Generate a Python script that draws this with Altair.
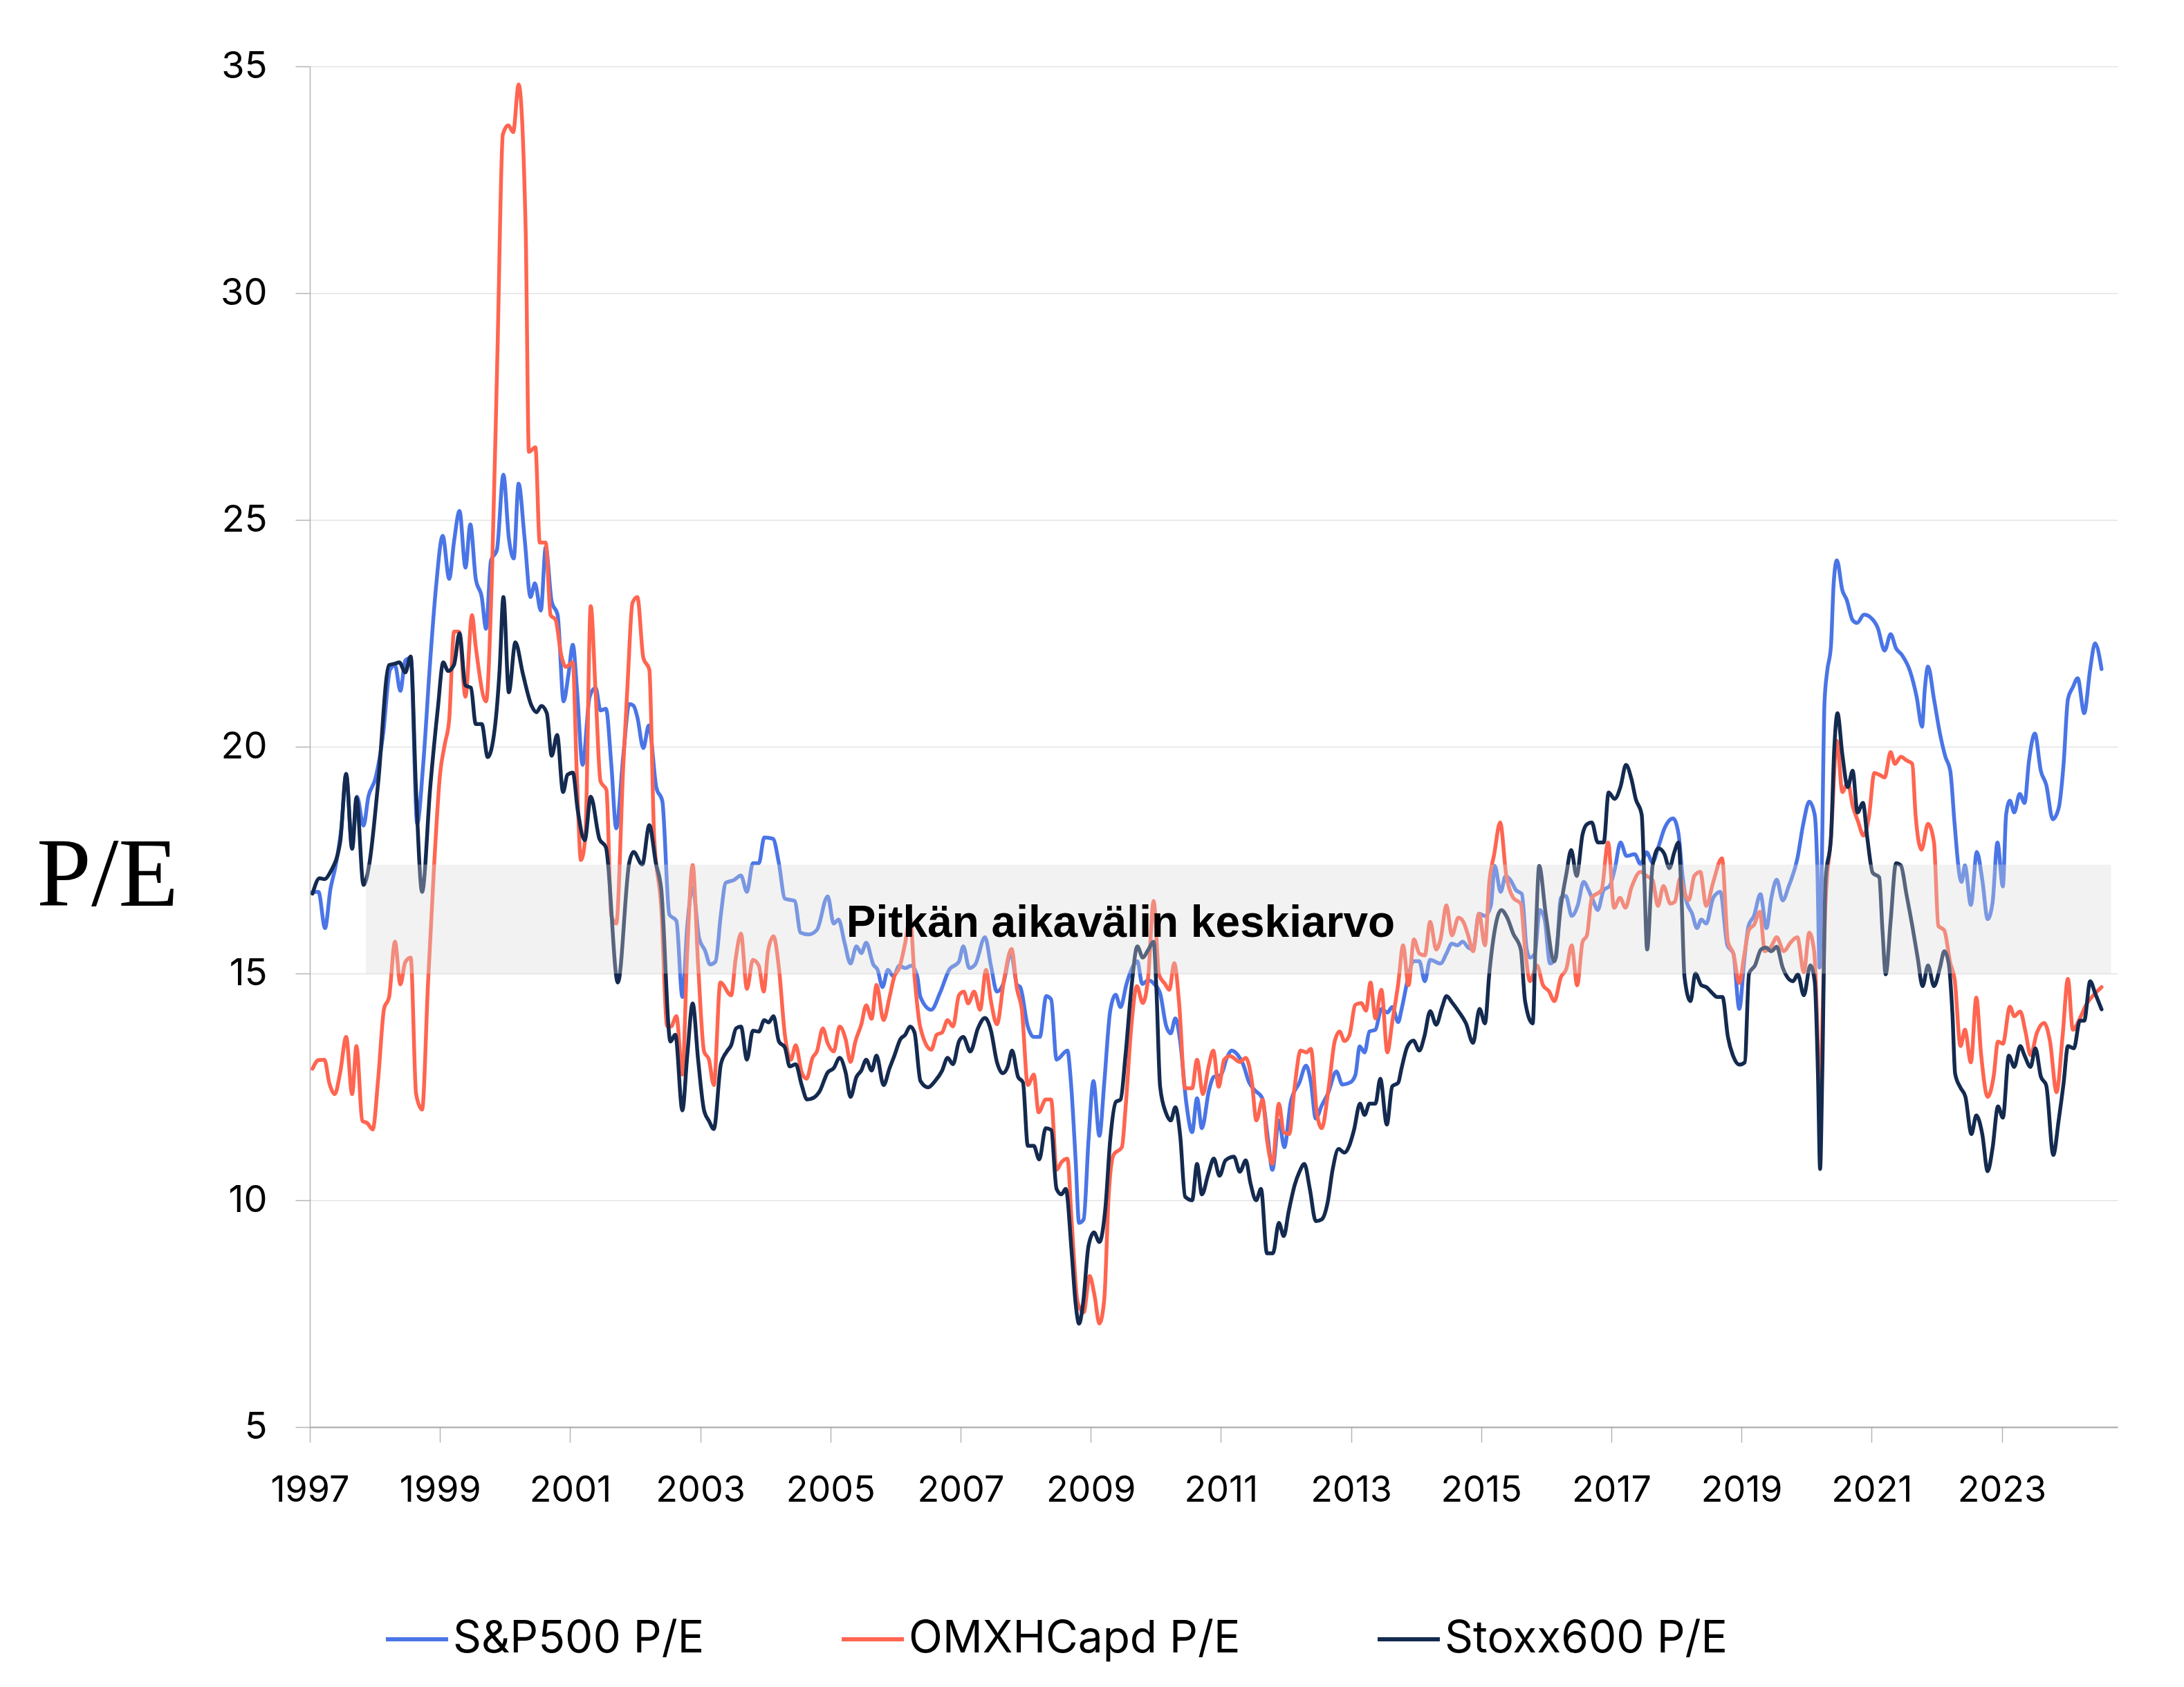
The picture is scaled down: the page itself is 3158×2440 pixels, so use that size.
import altair as alt
import pandas as pd

# ---- data: (months since Jan 1997, P/E) ----
sp500 = [(0.5,16.8),(1.6,16.8),(2.8,16.0),(3.8,16.86),(4.7,17.34),(5.8,18.2),(6.7,19.4),(7.8,17.75),(8.7,18.9),(9.9,18.26),(10.8,18.9),(12.1,19.3),(13.5,20.26),(14.8,21.7),(15.7,21.8),(16.7,21.23),(17.6,21.9),(18.6,21.96),(19.8,18.3),(20.9,19.6),(22.2,21.9),(23.3,23.56),(24.5,24.65),(25.7,23.7),(26.6,24.53),(27.6,25.2),(28.7,23.95),(29.6,24.9),(30.6,23.7),(31.7,23.3),(32.5,22.6),(33.4,24.1),(34.5,24.34),(35.7,26.0),(36.7,24.6),(37.6,24.15),(38.5,25.8),(39.6,24.6),(40.7,23.3),(41.5,23.6),(42.6,23.0),(43.5,24.4),(44.6,23.2),(45.7,22.9),(46.8,21.0),(47.7,21.6),(48.5,22.25),(49.3,21.2),(50.3,19.6),(51.6,21.1),(52.7,21.3),(53.6,20.8),(54.6,20.84),(55.6,19.6),(56.5,18.2),(57.8,19.8),(58.9,20.94),(59.7,20.9),(60.4,20.65),(61.5,19.97),(62.5,20.47),(63.9,19.1),(65.0,18.8),(66.3,16.3),(67.6,16.16),(68.7,14.48),(69.6,16.05),(70.6,16.9),(71.8,15.77),(72.9,15.5),(73.8,15.2),(74.8,15.26),(75.8,16.3),(76.7,17.0),(78.2,17.06),(79.5,17.16),(80.6,16.8),(81.7,17.43),(82.8,17.43),(83.8,18.0),(85.4,17.97),(86.5,17.43),(87.6,16.65),(89.4,16.6),(90.5,15.9),(92.0,15.86),(93.5,15.96),(95.5,16.7),(96.6,16.1),(97.5,16.19),(98.6,15.68),(99.7,15.22),(100.8,15.6),(101.7,15.45),(102.6,15.68),(103.9,15.2),(104.7,15.08),(105.6,14.7),(106.6,15.08),(107.6,14.94),(108.7,15.17),(109.8,15.12),(110.9,15.17),(112.0,14.94),(112.6,14.48),(114.6,14.2),(116.2,14.57),(117.9,15.08),(119.7,15.26),(120.5,15.6),(121.6,15.12),(122.7,15.2),(124.5,15.8),(125.6,15.17),(126.7,14.6),(127.8,14.75),(129.3,15.45),(130.4,14.75),(131.0,14.7),(132.4,13.83),(133.5,13.6),(134.6,13.6),(135.8,14.5),(136.7,14.43),(137.7,13.1),(139.7,13.3),(140.3,12.68),(141.2,10.92),(141.85,9.5),(142.7,9.58),(143.6,11.34),(144.5,12.63),(145.6,11.42),(146.5,12.6),(147.6,14.18),(148.6,14.53),(149.5,14.26),(150.6,14.77),(151.7,15.14),(152.6,15.27),(153.5,14.77),(154.6,14.85),(155.7,14.77),(156.8,14.56),(157.9,13.85),(158.75,13.68),(159.6,14.01),(160.5,13.5),(161.6,12.17),(162.7,11.5),(163.6,12.25),(164.5,11.59),(165.8,12.42),(166.7,12.72),(168.0,12.76),(169.1,13.14),(170.0,13.3),(171.0,13.22),(172.1,13.0),(173.2,12.6),(174.3,12.42),(175.6,12.26),(176.7,11.34),(177.5,10.67),(178.7,11.76),(179.7,11.17),(180.9,12.17),(182.5,12.6),(183.7,12.97),(184.6,12.6),(185.5,11.8),(186.6,12.09),(187.7,12.34),(189.3,12.84),(190.4,12.55),(191.9,12.6),(192.8,12.76),(193.6,13.39),(194.5,13.26),(195.4,13.72),(196.5,13.76),(197.6,14.22),(198.7,14.14),(199.6,14.26),(200.7,13.93),(201.3,14.2),(202.4,14.83),(203.5,15.27),(204.6,15.27),(205.6,14.83),(206.6,15.3),(208.5,15.22),(209.6,15.44),(210.6,15.66),(211.6,15.62),(212.6,15.7),(213.6,15.57),(214.5,15.53),(215.6,16.32),(216.7,16.27),(217.8,16.5),(218.5,17.37),(219.6,16.8),(220.5,17.15),(221.4,17.06),(222.4,16.84),(223.5,16.75),(224.4,15.53),(225.0,15.35),(225.9,15.44),(226.8,16.4),(227.7,16.19),(228.7,15.22),(229.8,15.35),(230.7,16.67),(231.6,16.71),(232.7,16.27),(233.8,16.5),(234.9,17.02),(235.8,16.84),(236.6,16.62),(237.5,16.4),(238.6,16.84),(239.7,16.93),(240.6,17.28),(241.7,17.89),(242.8,17.59),(244.3,17.63),(245.4,17.41),(246.5,17.67),(247.6,17.45),(248.7,17.8),(249.8,18.2),(251.4,18.42),(252.4,18.07),(253.1,17.19),(253.8,16.62),(254.9,16.32),(255.8,16.0),(256.6,16.19),(257.5,16.1),(258.8,16.67),(260.1,16.8),(261.4,15.62),(262.5,15.44),(263.6,14.22),(264.5,15.27),(265.3,16.05),(266.3,16.27),(267.5,16.75),(268.6,16.0),(269.5,16.66),(270.5,17.07),(271.6,16.61),(272.7,16.92),(274.3,17.53),(275.4,18.3),(276.5,18.79),(277.5,18.5),(278.0,17.28),(278.4,15.13),(278.8,17.28),(279.3,20.95),(279.8,21.66),(280.5,22.22),(281.0,23.6),(281.6,24.11),(282.6,23.45),(283.4,23.24),(284.5,22.79),(285.3,22.73),(286.6,22.91),(287.9,22.84),(289.1,22.63),(290.4,22.12),(291.5,22.48),(292.5,22.17),(293.6,22.02),(295.1,21.66),(296.3,21.1),(297.3,20.44),(297.8,21.26),(298.4,21.77),(299.5,21.05),(300.6,20.29),(301.6,19.78),(302.5,19.47),(303.3,18.3),(304.2,17.17),(304.6,17.02),(305.2,17.38),(306.3,16.51),(307.4,17.68),(308.4,17.07),(309.4,16.2),(310.3,16.56),(311.2,17.89),(312.2,16.92),(312.8,18.5),(313.5,18.81),(314.3,18.55),(315.3,18.96),(316.2,18.76),(317.0,19.67),(318.1,20.29),(319.2,19.47),(320.2,19.16),(321.4,18.4),(322.5,18.65),(323.4,19.62),(324.2,21.05),(325.1,21.31),(326.0,21.51),(327.2,20.74),(328.3,21.71),(329.2,22.28),(330.4,21.71)]

omxh = [(0.5,12.9),(1.6,13.09),(2.7,13.1),(3.6,12.58),(4.6,12.34),(5.6,12.82),(6.7,13.6),(7.8,12.34),(8.6,13.4),(9.7,11.75),(10.6,11.7),(11.6,11.56),(12.6,12.67),(13.7,14.23),(14.6,14.47),(15.7,15.7),(16.7,14.76),(17.6,15.25),(18.6,15.35),(19.6,12.34),(20.7,12.0),(21.8,14.8),(22.9,17.34),(24.0,19.38),(24.9,20.06),(25.7,20.6),(26.6,22.54),(27.5,22.54),(28.7,21.1),(29.9,22.9),(30.6,22.2),(32.5,21.0),(33.6,23.85),(34.6,28.7),(35.6,33.5),(36.6,33.7),(37.5,33.55),(38.5,34.6),(39.8,31.4),(40.4,26.5),(41.6,26.6),(42.4,24.5),(43.5,24.5),(44.4,22.9),(45.3,22.8),(46.4,22.0),(47.2,21.76),(48.5,21.86),(49.2,19.5),(50.0,17.5),(50.8,18.0),(51.8,23.1),(52.7,21.2),(53.6,19.24),(54.7,19.04),(55.6,16.27),(56.5,16.1),(57.8,19.58),(58.6,21.4),(59.5,23.17),(60.4,23.3),(61.5,21.96),(62.6,21.7),(63.5,18.0),(64.8,16.47),(65.9,13.84),(66.6,13.83),(67.6,14.06),(68.7,12.77),(69.6,15.5),(70.6,17.39),(71.6,15.2),(72.7,13.28),(73.6,13.1),(74.5,12.54),(75.7,14.8),(77.7,14.52),(78.5,15.3),(79.5,15.88),(80.6,14.66),(81.7,15.3),(82.8,15.17),(83.7,14.6),(84.5,15.5),(85.5,15.82),(86.5,15.12),(87.6,13.65),(88.7,13.1),(89.6,13.42),(90.7,12.82),(91.6,12.68),(92.7,13.14),(93.5,13.28),(94.6,13.79),(95.5,13.46),(96.6,13.28),(97.7,13.83),(98.8,13.55),(99.7,13.05),(100.6,13.5),(101.7,13.88),(102.6,14.3),(103.6,14.0),(104.5,14.75),(105.8,13.97),(106.9,14.48),(107.8,14.94),(108.7,15.12),(109.8,15.68),(110.7,16.23),(111.5,14.94),(112.6,13.8),(114.6,13.32),(115.6,13.65),(116.6,13.7),(117.6,13.97),(118.6,13.83),(119.7,14.52),(120.6,14.6),(121.4,14.34),(122.5,14.6),(123.6,14.2),(124.7,15.08),(125.6,14.39),(126.7,13.88),(128.0,14.85),(129.4,15.54),(130.4,14.66),(131.3,14.2),(132.4,12.54),(133.5,12.77),(134.4,11.94),(135.7,12.22),(136.7,12.22),(137.7,10.67),(138.6,10.84),(139.7,10.92),(140.5,9.5),(141.6,7.74),(142.7,7.53),(143.8,8.33),(144.7,7.9),(145.6,7.28),(146.5,7.82),(147.3,10.08),(148.2,11.0),(149.75,11.17),(150.4,12.0),(151.5,13.85),(152.5,14.72),(153.6,14.35),(154.6,14.93),(155.6,16.6),(156.6,14.97),(157.7,14.77),(158.5,14.64),(159.4,15.23),(160.3,14.35),(161.4,12.47),(162.7,12.47),(163.6,13.1),(164.7,12.34),(165.7,12.93),(166.6,13.3),(167.6,12.5),(168.6,13.1),(169.7,13.18),(171.5,13.05),(172.6,13.14),(173.7,12.63),(174.55,11.76),(175.7,12.22),(176.5,11.34),(177.5,10.8),(178.7,12.13),(179.6,11.5),(180.6,11.46),(181.6,12.5),(182.7,13.3),(183.8,13.26),(184.6,13.34),(185.7,11.92),(186.6,11.59),(187.9,12.5),(189.0,13.51),(189.9,13.72),(190.8,13.51),(191.7,13.64),(192.8,14.31),(193.9,14.35),(194.75,14.18),(195.6,14.8),(196.5,14.01),(197.6,14.64),(198.7,13.26),(199.6,13.93),(200.7,14.77),(201.6,15.62),(202.6,14.74),(203.6,15.75),(204.6,15.44),(205.6,15.4),(206.6,16.14),(207.7,15.53),(208.5,15.75),(209.6,16.5),(210.6,15.84),(211.8,16.23),(212.7,16.14),(213.6,15.84),(214.5,15.49),(215.6,16.32),(216.7,15.62),(217.5,17.02),(218.4,17.63),(219.5,18.33),(220.6,17.19),(221.9,16.67),(223.3,16.54),(224.1,15.53),(225.0,14.83),(226.3,15.18),(227.4,14.74),(228.5,14.61),(229.5,14.39),(230.7,14.92),(231.7,15.1),(232.7,15.62),(233.7,14.74),(234.7,15.7),(235.5,15.84),(236.4,16.67),(238.2,16.84),(239.4,17.89),(240.5,16.45),(241.6,16.67),(242.6,16.45),(243.7,16.89),(245.4,17.24),(246.5,17.15),(247.6,17.06),(248.6,16.49),(249.6,16.93),(250.9,16.54),(251.7,16.58),(252.7,17.1),(253.6,16.75),(254.3,16.62),(255.3,17.15),(256.4,17.24),(257.5,16.49),(258.8,17.02),(260.4,17.54),(261.5,15.7),(262.5,15.44),(263.6,14.79),(264.5,15.4),(265.4,15.97),(266.3,16.07),(267.4,16.36),(268.3,15.49),(269.5,15.6),(270.5,15.8),(271.8,15.49),(273.1,15.69),(274.3,15.8),(275.5,15.03),(276.5,15.9),(277.4,15.49),(278.0,13.8),(278.5,11.76),(278.9,13.8),(279.5,16.56),(280.5,17.99),(281.6,20.13),(282.6,19.0),(283.6,19.21),(284.5,18.7),(285.5,18.35),(286.5,18.04),(287.5,18.45),(288.5,19.42),(289.6,19.37),(290.4,19.32),(291.5,19.88),(292.3,19.62),(293.4,19.78),(294.4,19.7),(295.5,19.62),(296.1,18.5),(297.2,17.73),(298.4,18.3),(299.5,17.89),(300.3,16.05),(301.4,15.95),(302.5,15.23),(303.3,14.88),(304.4,13.4),(305.2,13.76),(306.3,13.04),(307.3,14.47),(308.2,13.2),(309.4,12.28),(310.5,12.73),(311.3,13.5),(312.2,13.45),(313.5,14.27),(314.3,14.06),(315.4,14.16),(316.4,13.7),(317.3,13.2),(318.5,13.7),(319.8,13.91),(320.9,13.5),(322.1,12.38),(323.2,13.6),(324.2,14.88),(325.1,13.76),(326.4,14.01),(327.6,14.32),(328.9,14.52),(330.4,14.7)]

stoxx = [(0.5,16.76),(1.8,17.1),(2.7,17.08),(3.8,17.24),(5.6,17.9),(6.7,19.4),(7.8,17.75),(8.6,18.88),(9.9,16.95),(11.0,17.44),(12.6,19.2),(14.6,21.8),(15.7,21.83),(16.5,21.86),(17.6,21.64),(18.6,21.99),(19.6,19.0),(20.7,16.8),(22.2,19.1),(23.6,20.84),(24.6,21.86),(25.5,21.67),(26.6,21.81),(27.6,22.5),(28.7,21.35),(29.7,21.3),(30.6,20.5),(31.7,20.5),(32.8,19.77),(34.1,20.4),(35.0,21.7),(35.7,23.3),(36.7,21.2),(37.9,22.3),(39.3,21.6),(40.9,20.9),(41.8,20.76),(42.7,20.9),(43.7,20.74),(44.6,19.8),(45.6,20.26),(46.7,19.0),(47.5,19.38),(48.5,19.43),(49.4,18.6),(50.7,17.94),(51.8,18.9),(53.4,17.97),(54.6,17.78),(56.8,14.8),(58.9,17.44),(59.7,17.68),(61.3,17.4),(62.6,18.27),(63.8,17.44),(64.8,16.86),(66.5,13.5),(67.4,13.65),(68.7,11.98),(69.6,13.19),(70.6,14.34),(71.6,13.1),(72.7,11.98),(73.6,11.75),(74.5,11.57),(75.8,13.0),(76.9,13.28),(77.7,13.42),(78.6,13.79),(79.5,13.83),(80.6,13.1),(81.7,13.74),(82.8,13.72),(83.8,13.97),(84.6,13.92),(85.5,14.06),(86.5,13.5),(87.6,13.37),(88.5,12.95),(89.6,13.0),(90.7,12.54),(91.7,12.22),(92.9,12.26),(94.0,12.4),(95.5,12.82),(96.6,12.91),(97.7,13.14),(98.8,12.82),(99.7,12.28),(100.8,12.72),(101.7,12.86),(102.6,13.1),(103.6,12.86),(104.5,13.19),(105.8,12.54),(106.9,12.91),(107.8,13.19),(108.9,13.55),(109.8,13.65),(110.7,13.83),(111.5,13.7),(112.6,12.63),(114.0,12.49),(115.3,12.63),(116.6,12.86),(117.6,13.14),(118.6,13.0),(119.7,13.5),(120.5,13.6),(121.8,13.28),(123.2,13.79),(124.5,14.02),(125.6,13.74),(126.7,13.05),(127.8,12.8),(128.7,12.95),(129.5,13.3),(130.6,12.72),(131.5,12.6),(132.4,11.2),(133.5,11.2),(134.5,10.9),(135.7,11.59),(136.7,11.55),(137.7,10.25),(138.6,10.13),(139.4,10.25),(140.5,8.83),(141.2,7.74),(141.85,7.28),(142.6,7.74),(143.6,9.0),(144.6,9.29),(145.6,9.08),(146.7,9.83),(147.6,11.34),(148.65,12.17),(149.5,12.22),(150.4,13.18),(151.5,14.68),(152.6,15.6),(153.6,15.35),(154.6,15.52),(155.6,15.7),(156.1,14.68),(156.8,12.5),(157.9,11.92),(158.75,11.76),(159.6,12.05),(160.5,11.42),(161.4,10.08),(162.7,10.0),(163.6,10.8),(164.5,10.13),(165.7,10.59),(166.7,10.92),(167.75,10.54),(168.85,10.88),(170.4,10.96),(171.5,10.63),(172.6,10.88),(173.45,10.38),(174.5,10.0),(175.4,10.25),(176.5,8.83),(177.6,8.83),(178.7,9.5),(179.6,9.21),(180.5,9.75),(181.6,10.33),(182.5,10.63),(183.4,10.8),(184.4,10.25),(185.5,9.54),(186.6,9.58),(187.7,9.96),(188.6,10.67),(189.7,11.13),(190.8,11.05),(191.7,11.21),(192.55,11.55),(193.65,12.13),(194.5,11.88),(195.4,12.13),(196.5,12.13),(197.4,12.68),(198.6,11.67),(199.6,12.51),(200.7,12.59),(201.3,12.9),(202.4,13.39),(203.5,13.52),(204.6,13.3),(205.5,13.6),(206.6,14.17),(207.7,13.87),(208.8,14.26),(209.6,14.5),(210.7,14.35),(211.8,14.17),(213.2,13.9),(214.5,13.47),(215.7,14.22),(216.7,13.9),(217.5,15.0),(218.4,15.88),(219.7,16.4),(220.8,16.23),(221.9,15.88),(223.3,15.53),(224.1,14.39),(225.5,13.9),(226.1,15.97),(226.7,17.37),(227.9,16.32),(229.5,15.27),(230.7,16.49),(231.7,17.19),(232.6,17.72),(233.6,17.15),(234.7,18.07),(235.5,18.29),(236.4,18.33),(237.5,17.89),(238.6,17.89),(239.5,18.99),(240.6,18.85),(241.7,19.12),(242.7,19.6),(243.7,19.29),(244.5,18.85),(245.6,18.5),(246.1,17.02),(246.6,15.53),(247.6,17.37),(248.7,17.76),(249.8,17.63),(250.7,17.32),(251.6,17.67),(252.4,17.89),(252.9,16.84),(253.5,14.92),(254.6,14.39),(255.5,15.0),(256.6,14.74),(257.5,14.7),(258.6,14.57),(259.5,14.48),(260.5,14.48),(261.5,13.6),(262.5,13.17),(263.6,12.99),(264.6,13.04),(265.4,15.0),(266.5,15.18),(267.6,15.53),(268.5,15.57),(269.5,15.49),(270.5,15.59),(271.6,15.13),(273.5,14.83),(274.4,14.98),(275.5,14.52),(276.7,15.18),(277.5,14.83),(278.1,12.79),(278.5,10.69),(278.9,12.79),(279.5,17.07),(280.5,17.99),(281.1,19.93),(281.7,20.74),(282.6,19.83),(283.6,19.11),(284.5,19.47),(285.4,18.55),(286.4,18.76),(287.2,17.99),(288.2,17.22),(289.4,17.12),(290.0,15.95),(290.6,14.98),(291.5,16.15),(292.5,17.43),(293.4,17.38),(294.4,16.76),(295.5,16.05),(296.5,15.34),(297.4,14.72),(298.4,15.18),(299.5,14.72),(300.6,15.13),(301.4,15.49),(302.2,15.23),(302.9,14.11),(303.4,12.79),(304.4,12.48),(305.3,12.28),(306.4,11.46),(307.3,11.87),(308.4,11.46),(309.4,10.64),(310.3,11.15),(311.3,12.07),(312.2,11.82),(313.3,13.19),(314.3,12.94),(315.4,13.4),(316.2,13.19),(317.3,12.94),(318.2,13.35),(319.2,12.73),(320.2,12.53),(321.5,11.0),(322.5,11.77),(323.4,12.58),(324.2,13.4),(325.3,13.35),(326.4,13.96),(327.2,13.96),(328.3,14.83),(329.2,14.57),(330.4,14.21)]

series_names = ["S&P500 P/E", "OMXHCapd P/E", "Stoxx600 P/E"]
series_colors = ["#4A75E6", "#FF6550", "#142A4F"]

band_years = [1997.86, 2024.68]
band_values = [15.0, 17.4]
band_label = "Pitkän aikavälin keskiarvo"
band_label_pos = [2009.46, 16.1]

x_ticks = list(range(1997, 2024, 2))
y_ticks = [5, 10, 15, 20, 25, 30, 35]
x_domain = [1997, 2024.78]
y_domain = [5, 35]

# ---- tables ----
rows = []
for name, pts in zip(series_names, [sp500, omxh, stoxx]):
    for m, v in pts:
        rows.append({"year": 1997 + m / 12.0, "pe": v, "series": name})
df = pd.DataFrame(rows)

band_df = pd.DataFrame([{"x0": band_years[0], "x1": band_years[1],
                         "y0": band_values[0], "y1": band_values[1]}])
label_df = pd.DataFrame([{"year": band_label_pos[0], "pe": band_label_pos[1], "text": band_label}])

xs = alt.Scale(domain=x_domain, nice=False, zero=False)
ys = alt.Scale(domain=y_domain, nice=False, zero=False)

lines = alt.Chart(df).mark_line(
    strokeWidth=5.5, interpolate="monotone", strokeCap="round", strokeJoin="round"
).encode(
    x=alt.X("year:Q", scale=xs,
            axis=alt.Axis(values=x_ticks, format="d", title=None, grid=False,
                          labelFont="Inter", labelFontSize=52, labelColor="#000000",
                          labelPadding=44, tickSize=22, tickColor="#b4b4b4", tickWidth=1.5,
                          domainColor="#a8a8a8", domainWidth=2, labelFlush=False)),
    y=alt.Y("pe:Q", scale=ys,
            axis=alt.Axis(values=y_ticks, format="d", title="P/E", titleAngle=0,
                          titleFont="Liberation Serif",
                          titleFontSize=142, titleFontWeight="normal", titleColor="#000000",
                          titleAlign="center", titleBaseline="alphabetic", titleX=-293, titleY=1213,
                          labelFont="Inter", labelFontSize=54, labelColor="#000000",
                          labelPadding=41, tickSize=21, tickColor="#b4b4b4", tickWidth=1.5,
                          domainColor="#b4b4b4", domainWidth=1.5,
                          grid=True, gridColor="#e3e3e3", gridWidth=1.5)),
    color=alt.Color("series:N", sort=series_names,
                    scale=alt.Scale(domain=series_names, range=series_colors),
                    legend=alt.Legend(orient="none", legendX=107, legendY=2227,
                                      direction="horizontal", title=None,
                                      symbolType="stroke", symbolSize=8100, symbolStrokeWidth=6,
                                      labelFont="Inter", labelFontSize=64, labelColor="#000000",
                                      labelLimit=0, labelOffset=4, columnPadding=186,
                                      padding=0, symbolOffset=0)),
    order=alt.Order("series_order:Q")
).transform_calculate(
    series_order="indexof(['S&P500 P/E','OMXHCapd P/E','Stoxx600 P/E'], datum.series)"
)

band = alt.Chart(band_df).mark_rect(color="#d9d9d9", opacity=0.34).encode(
    x=alt.X("x0:Q", scale=xs), x2="x1:Q",
    y=alt.Y("y0:Q", scale=ys), y2="y1:Q"
)

label = alt.Chart(label_df).mark_text(
    font="Liberation Sans", fontSize=64, fontWeight="bold", color="#000000",
    align="center", baseline="middle"
).encode(
    x=alt.X("year:Q", scale=xs), y=alt.Y("pe:Q", scale=ys), text="text:N"
)

chart = alt.layer(lines, band, label).properties(
    width=2614, height=1968,
    padding={"left": 440, "top": 88, "right": 80, "bottom": 360},
    autosize=alt.AutoSizeParams(type="none"),
    background="#ffffff"
).configure_view(stroke=None)

chart.save("out.html", embed_options={"renderer": "svg", "actions": False})
